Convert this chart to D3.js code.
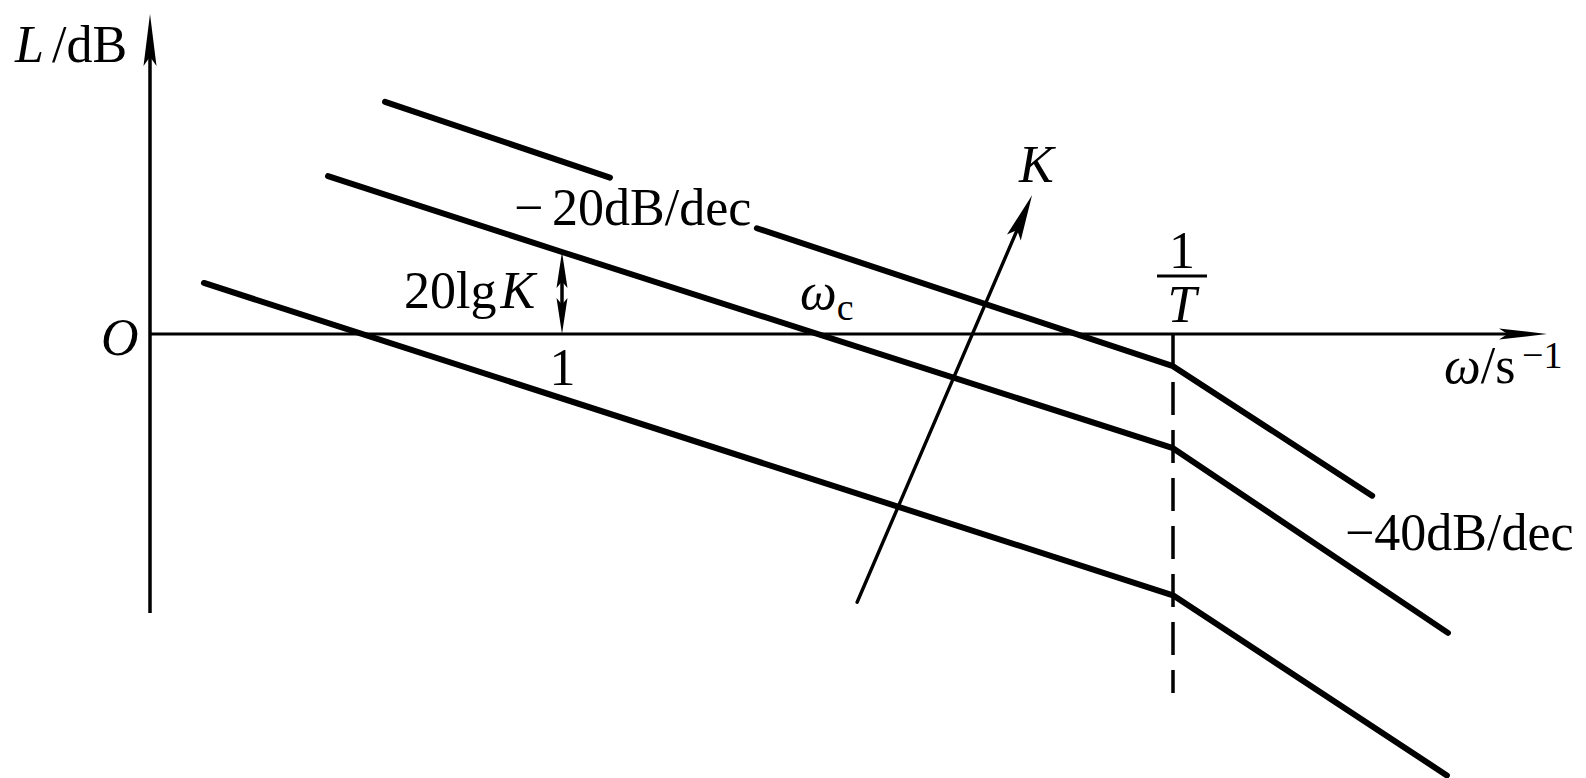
<!DOCTYPE html>
<html>
<head>
<meta charset="utf-8">
<script src="https://cdn.jsdelivr.net/npm/d3@7"></script>
<style>
  body { margin: 0; background: #fff; }
  svg { display: block; }
  text { font-family: "Liberation Serif", "Times New Roman", serif; fill: #000; }
</style>
</head>
<body>
<svg id="chart" width="1586" height="778"></svg>
<script>
// Asymptotic log-magnitude curves L(ω) for three gains K, points as [ω, dB].
// A null entry leaves a gap where the slope label sits.
const curveHigh = [[0.42, 30.3], [1.265, 20.4], null, [2.60, 13.8], [20, -4.2], [53.1, -21.1]];
const curveMid  = [[0.3175, 20.6], [1, 10.7], [20, -14.9], [77.0, -39.0]];
const curveLow  = [[0.1728, 6.66], [20, -34.1], [76.6, -57.6]];
const cornerFreq = 20;      // 1/T
const gainDb = 10.7;        // 20lgK read at ω = 1
const gainArrow = [[4.25, -35.0], [10.02, 18.1]];   // direction of increasing K
const xTicks = [1];

const svg = d3.select("#chart");
const FS = 52;

// log frequency axis, linear dB axis
const x = d3.scaleLog().domain([1, cornerFreq]).range([562, 1173]);
const y = d3.scaleLinear().domain([0, gainDb]).range([334, 252]);

const x0 = 150, xEnd = 1547, yTop = 14, yBottom = 613;

// filled arrowhead with a slightly notched base
function arrowHead(g, tip, from, len, hw) {
  const dx = from[0] - tip[0], dy = from[1] - tip[1];
  const d = Math.hypot(dx, dy), ux = dx / d, uy = dy / d;
  const px = -uy, py = ux;
  const bx = tip[0] + ux * len, by = tip[1] + uy * len;
  const nx = tip[0] + ux * len * 0.82, ny = tip[1] + uy * len * 0.82;
  g.append("path")
    .attr("d", `M${tip[0]},${tip[1]}L${bx + px * hw},${by + py * hw}L${nx},${ny}L${bx - px * hw},${by - py * hw}Z`)
    .attr("fill", "#000");
}

const axes = svg.append("g");
// ω axis
axes.append("line").attr("x1", x0).attr("x2", xEnd - 20).attr("y1", y(0)).attr("y2", y(0))
  .attr("stroke", "#000").attr("stroke-width", 3);
arrowHead(axes, [xEnd, y(0)], [x0, y(0)], 48, 5.5);
// L axis
axes.append("line").attr("x1", x0).attr("x2", x0).attr("y1", yBottom).attr("y2", yTop + 20)
  .attr("stroke", "#000").attr("stroke-width", 3.5);
arrowHead(axes, [x0, yTop], [x0, yBottom], 52, 6.5);

// tick label "1" under the ω axis
const xAxis = d3.axisBottom(x).tickValues(xTicks).tickSize(0).tickFormat(d3.format("d"));
const gx = svg.append("g").attr("transform", `translate(0,${y(0)})`).call(xAxis);
gx.select(".domain").remove();
gx.selectAll("text")
  .attr("y", 51).attr("dy", 0)
  .style("font-family", '"Liberation Serif", "Times New Roman", serif')
  .style("font-size", FS + "px").attr("fill", "#000");

// dashed line at the corner frequency 1/T
svg.append("line")
  .attr("x1", x(cornerFreq)).attr("x2", x(cornerFreq))
  .attr("y1", y(0)).attr("y2", 693)
  .attr("stroke", "#000").attr("stroke-width", 3.5)
  .attr("stroke-dasharray", "33,15");

// magnitude curves
const line = d3.line()
  .defined(d => d !== null)
  .x(d => x(d[0])).y(d => y(d[1]));
[curveHigh, curveMid, curveLow].forEach(c => {
  svg.append("path").attr("d", line(c))
    .attr("fill", "none").attr("stroke", "#000")
    .attr("stroke-width", 6).attr("stroke-linecap", "round").attr("stroke-linejoin", "round");
});

// 20lgK double arrow at ω = 1
const ga = svg.append("g");
const kx = x(1);
ga.append("line").attr("x1", kx).attr("x2", kx).attr("y1", y(0) - 20).attr("y2", y(gainDb) + 20)
  .attr("stroke", "#000").attr("stroke-width", 3.5);
arrowHead(ga, [kx, y(gainDb)], [kx, y(0)], 36, 5.5);
arrowHead(ga, [kx, y(0)], [kx, y(gainDb)], 36, 5.5);

// arrow showing the shift of the curves as K grows
const kArrow = svg.append("g");
const kStart = [x(gainArrow[0][0]), y(gainArrow[0][1])];
const kTip = [x(gainArrow[1][0]), y(gainArrow[1][1])];
kArrow.append("line")
  .attr("x1", kStart[0]).attr("y1", kStart[1])
  .attr("x2", kTip[0] + (kStart[0] - kTip[0]) * 0.08).attr("y2", kTip[1] + (kStart[1] - kTip[1]) * 0.08)
  .attr("stroke", "#000").attr("stroke-width", 3.4).attr("stroke-linecap", "round");
arrowHead(kArrow, kTip, kStart, 46, 7.5);

// labels
function label(txt, px, py, opts = {}) {
  const t = svg.append("text").attr("x", px).attr("y", py)
    .style("font-size", (opts.size || FS) + "px");
  if (opts.italic) t.style("font-style", "italic");
  if (opts.anchor) t.attr("text-anchor", opts.anchor);
  t.text(txt);
  return t;
}

// L/dB
const tl = svg.append("text").attr("x", 15).attr("y", 62).style("font-size", FS + "px");
tl.append("tspan").style("font-style", "italic").text("L");
tl.append("tspan").attr("x", 52).text("/dB");

// origin
label("O", 101, 355, { italic: true });

// ω/s^-1
const tw = svg.append("text").attr("x", 1444).attr("y", 383).style("font-size", FS + "px");
tw.append("tspan").style("font-style", "italic").text("ω");
tw.append("tspan").text("/s");
svg.append("text").attr("x", 1522).attr("y", 368).style("font-size", "38px").text("−1");

// slope labels
const s20 = svg.append("text").attr("y", 225).style("font-size", FS + "px");
s20.append("tspan").attr("x", 514).text("−");
s20.append("tspan").attr("x", 552).text("20dB/dec");
label("−40dB/dec", 1345, 550);

// 20lgK
const tk = svg.append("text").attr("x", 404).attr("y", 308).style("font-size", FS + "px");
tk.append("tspan").text("20lg");
tk.append("tspan").style("font-style", "italic").attr("dx", 4).text("K");

// ω_c at the crossover
const tc = svg.append("text").attr("x", 800).attr("y", 309).style("font-size", FS + "px");
tc.append("tspan").style("font-style", "italic").text("ω");
tc.append("tspan").attr("dy", 11).style("font-size", "38px").text("c");

// K on the arrow
label("K", 1019, 182, { italic: true });

// 1/T fraction above the corner
const fx = x(cornerFreq) + 9;
label("1", fx, 268, { anchor: "middle" });
svg.append("line").attr("x1", fx - 25).attr("x2", fx + 25).attr("y1", 276).attr("y2", 276)
  .attr("stroke", "#000").attr("stroke-width", 3);
label("T", fx, 322, { italic: true, anchor: "middle" });
</script>
</body>
</html>
